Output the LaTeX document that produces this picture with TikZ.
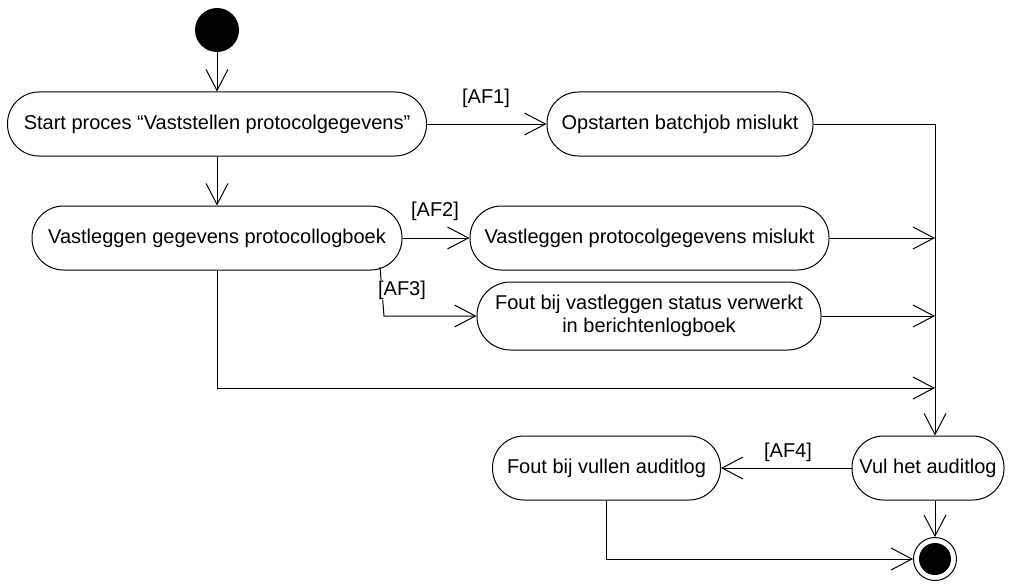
\documentclass[tikz,border=0pt]{standalone}
\usepackage{fontspec}
\setmainfont{Liberation Sans}
\usetikzlibrary{arrows.meta,calc}
\begin{document}
\begin{tikzpicture}[x=1pt,y=-1pt,
  font=\fontsize{20}{23}\selectfont,
  act/.style={draw,line width=1pt,rounded corners=31.5pt,minimum height=64pt,inner sep=0pt,align=center,fill=white},
  flow/.style={line width=1pt,-{Straight Barb[length=21pt,width=22pt,line width=1pt]}},
  guard/.style={fill=white,inner sep=1pt}]
\useasboundingbox[fill=white] (0,0) rectangle (1016,583);
% nodes
\node[circle,fill=black,minimum size=44pt,inner sep=0pt] (init) at (217,30) {};
\node[act,minimum width=419pt] (start) at (217,124) {Start proces “Vaststellen protocolgegevens”};
\node[act,minimum width=266pt] (opst) at (680,124) {Opstarten batchjob mislukt};
\node[act,minimum width=370pt] (vgp) at (217,238) {Vastleggen gegevens protocollogboek};
\node[act,minimum width=359pt] (vpm) at (649.5,238) {Vastleggen protocolgegevens mislukt};
\node[act,minimum width=344pt,minimum height=68pt,rounded corners=33.5pt] (fvs) at (649,316) {Fout bij vastleggen status verwerkt\\in berichtenlogboek};
\node[act,minimum width=152pt] (vul) at (928,468) {Vul het auditlog};
\node[act,minimum width=228pt] (fva) at (606.5,468) {Fout bij vullen auditlog};
\node[circle,draw,line width=1pt,minimum size=43pt,inner sep=0pt,fill=white] (final) at (935,559) {};
\node[circle,fill=black,minimum size=32pt,inner sep=0pt] (finalin) at (final) {};
% coordinates
\coordinate (vtop) at ($(vul.north)+(7,0)$);
\coordinate (vbot) at ($(vul.south)+(7,0)$);
\coordinate (bend) at (217,388);
\coordinate (af3s) at (380,267);
\coordinate (af3c) at (384,316);
% connectors
\draw[flow] (init) -- (start);
\draw[flow] (start) -- (vgp);
\draw[flow] (start.east) -- (opst.west);
\draw[flow] (opst.east) -| (vtop);
\draw[flow] (vgp.east) -- (vpm.west);
\draw[flow] (vpm.east) -- (vpm.east -| vtop);
\draw[flow] (af3s) -- (af3c) -- (fvs.west);
\draw[flow] (fvs.east) -- (fvs.east -| vtop);
\draw[flow] (vgp.south) -- (bend) -- (bend -| vtop);
\draw[flow] (vul.west) -- (fva.east);
\draw[flow] (vbot) -- (final);
\draw[flow] (fva.south) |- (final.west);
% guards
\node[guard] (af1) at (486,98) {[AF1]};
\node[guard] (af2) at (435,211) {[AF2]};
\node[guard] (af3) at (402,290) {[AF3]};
\node[guard] (af4) at (788,452) {[AF4]};
\end{tikzpicture}
\end{document}
